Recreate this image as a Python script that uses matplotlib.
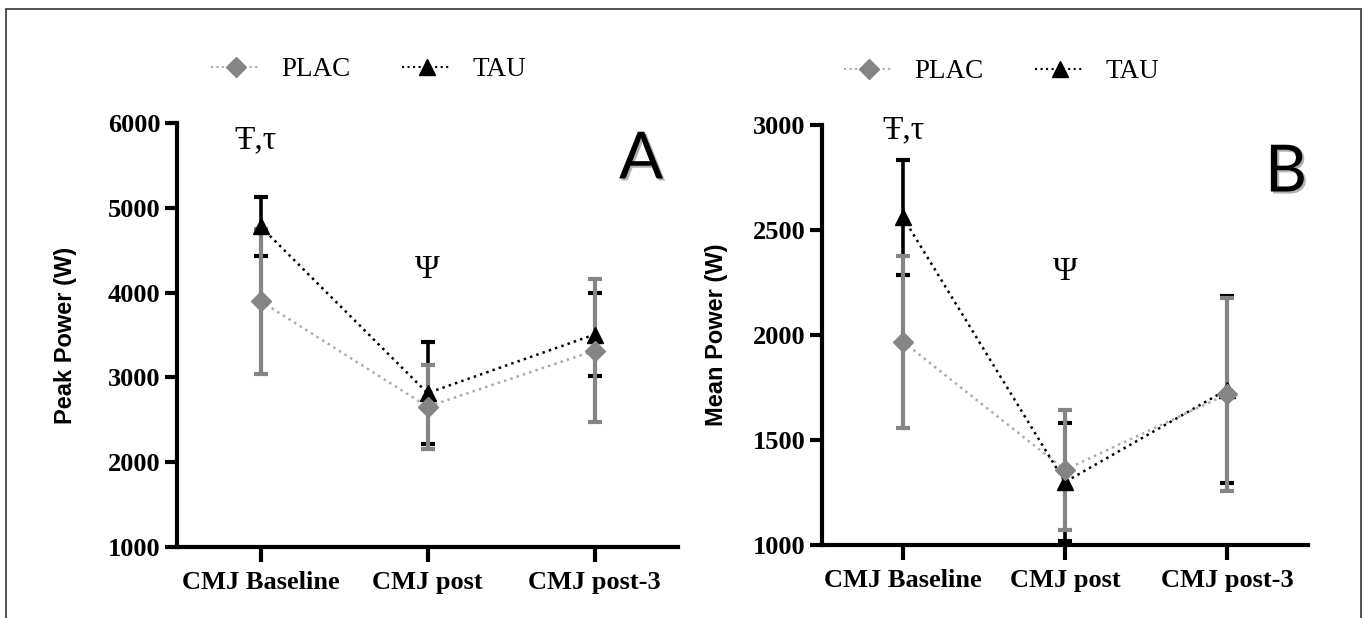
import matplotlib.pyplot as plt
import matplotlib.patheffects as pe
from matplotlib.patches import Rectangle
from matplotlib.lines import Line2D

# data
groups = ['CMJ Baseline', 'CMJ post', 'CMJ post-3']
peak_plac = [3900, 2655, 3315]
peak_plac_sd = [855, 495, 840]
peak_tau = [4780, 2815, 3505]
peak_tau_sd = [350, 600, 490]
mean_plac = [1968, 1358, 1718]
mean_plac_sd = [410, 285, 460]
mean_tau = [2560, 1300, 1740]
mean_tau_sd = [275, 280, 445]

W, H = 1365, 618
fig = plt.figure(figsize=(13.65, 6.18), dpi=100)

GRAY = '#858585'
LGRAY = '#ababab'
serif = 'Liberation Serif'

def px(x0, y0, x1, y1):
    return [x0 / W, 1 - y1 / H, (x1 - x0) / W, (y1 - y0) / H]

axA = fig.add_axes(px(177, 123, 678, 547))
axB = fig.add_axes(px(822, 125, 1308, 545))

def panel(ax, plac, plac_sd, tau, tau_sd, ylim, yticks, ylabel):
    x = range(len(groups))
    ax.errorbar(x, tau, yerr=tau_sd, fmt='none', ecolor='black', elinewidth=2.6,
                capsize=5, capthick=3, zorder=2)
    ax.errorbar(x, plac, yerr=plac_sd, fmt='none', ecolor=GRAY, elinewidth=3,
                capsize=5, capthick=3, zorder=3)
    ax.plot(x, plac, ':', color=LGRAY, lw=1.8, zorder=4)
    ax.plot(x, tau, ':', color='black', lw=1.8, zorder=4)
    ax.plot(x, tau, '^', color='black', ms=12, ls='none', zorder=5)
    ax.plot(x, plac, 'D', color=GRAY, ms=10, ls='none', zorder=6)
    ax.set_xlim(-0.5, 2.5)
    ax.set_ylim(*ylim)
    ax.set_yticks(yticks)
    ax.set_xticks(list(x))
    ax.set_xticklabels(groups)
    for s in ['top', 'right']:
        ax.spines[s].set_visible(False)
    for s in ['left', 'bottom']:
        ax.spines[s].set_linewidth(3)
    ax.tick_params(axis='x', width=3, length=11, pad=6)
    ax.tick_params(axis='y', width=3, length=9, pad=3)
    for lab in ax.get_xticklabels() + ax.get_yticklabels():
        lab.set_fontfamily(serif)
        lab.set_fontweight('bold')
        lab.set_fontsize(19)
    ax.set_ylabel(ylabel, fontsize=17, fontweight='bold', family='Liberation Sans')

panel(axA, peak_plac, peak_plac_sd, peak_tau, peak_tau_sd, (1000, 6000),
      [1000, 2000, 3000, 4000, 5000, 6000], 'Peak Power (W)')
panel(axB, mean_plac, mean_plac_sd, mean_tau, mean_tau_sd, (1000, 3000),
      [1000, 1500, 2000, 2500, 3000], 'Mean Power (W)')
axA.yaxis.set_label_coords(-0.20, 0.5)
axB.yaxis.set_label_coords(-0.193, 0.5)

# significance marks
axA.text(-0.03, 5800, 'Ŧ,τ', ha='center', va='center', fontsize=24, family=serif)
axA.text(1, 4270, 'Ψ', ha='center', va='center', fontsize=24, family=serif)
axB.text(0, 2975, 'Ŧ,τ', ha='center', va='center', fontsize=24, family=serif)
axB.text(1, 2300, 'Ψ', ha='center', va='center', fontsize=24, family=serif)

# panel letters
shadow = [pe.SimplePatchShadow(offset=(1.5, -1.5), alpha=0.3), pe.Normal()]
fig.text(641 / W, 1 - 160 / H, 'A', fontsize=47, family='Lato', ha='center', va='center',
         path_effects=shadow)
fig.text(1286 / W, 1 - 173 / H, 'B', fontsize=47, family='Lato', ha='center', va='center',
         path_effects=shadow)

# legends
handles = [Line2D([], [], ls=':', color=LGRAY, lw=1.5, marker='D', ms=10,
                  mfc=GRAY, mec=GRAY),
           Line2D([], [], ls=':', color='black', lw=1.5, marker='^', ms=12,
                  mfc='black', mec='black')]
for cx, cy in [(369, 70), (1002, 72)]:
    fig.legend(handles, ['PLAC', 'TAU'], loc='center', ncol=2,
               bbox_to_anchor=(cx / W, 1 - cy / H), frameon=False,
               prop={'family': serif, 'size': 19.5}, handlelength=1.8,
               handletextpad=0.8, columnspacing=1.9)

# outer frame of the figure image
fig.patches.append(Rectangle((6 / W, -0.1), (1361 - 6) / W, 1.1 - 9 / H,
                             transform=fig.transFigure, fill=False,
                             lw=1.2, ec='#333333'))

fig.savefig('out.png', dpi=100)
